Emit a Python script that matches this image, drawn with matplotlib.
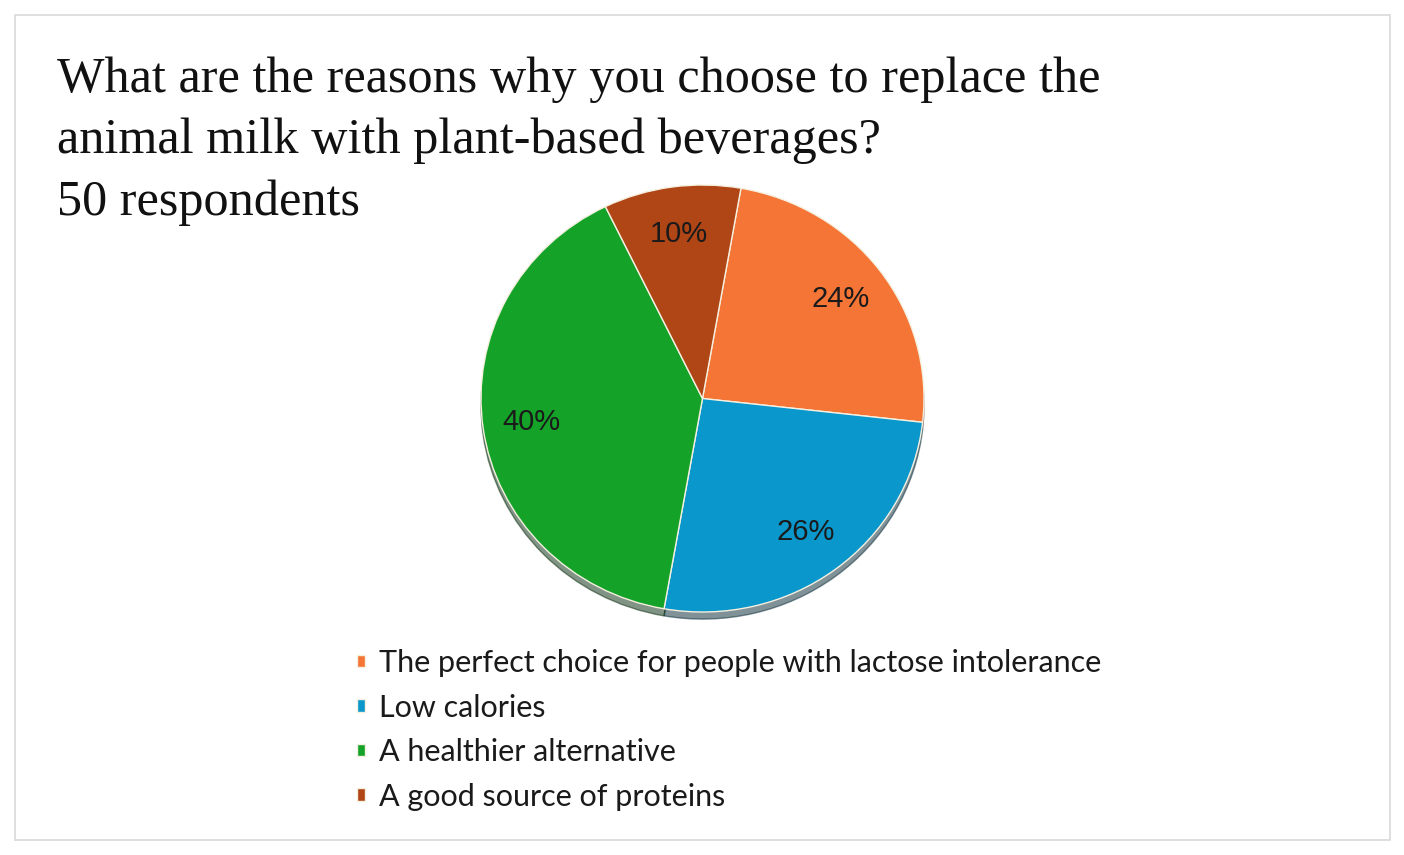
import matplotlib.pyplot as plt
from matplotlib.patches import Rectangle

# survey data (50 respondents)
reasons = [
    'The perfect choice for people with lactose intolerance',
    'Low calories',
    'A healthier alternative',
    'A good source of proteins',
]
shares = [24, 26, 40, 10]
colors = ['#F47535', '#0A97CC', '#14A328', '#B04516']

title_lines = [
    'What are the reasons why you choose to replace the',
    'animal milk with plant-based beverages?',
    '50 respondents',
]

W, H = 1404, 855
fig = plt.figure(figsize=(W / 100, H / 100), dpi=100)
fig.patch.set_facecolor('white')

# light grey frame around the whole chart
fig.patches.append(Rectangle((15 / W, 15 / H), 1375 / W, 825 / H,
                             transform=fig.transFigure, fill=False,
                             edgecolor='#D9D9D9', linewidth=1.2))

# title, one text per line
for i, line in enumerate(title_lines):
    fig.text(57 / W, 1 - (92 + 61.5 * i) / H, line, ha='left', va='baseline',
             fontsize=36.2, family='Liberation Serif', color='#111111')

# pie axes sized to the slightly wide pie in the reference
ax = fig.add_axes([481 / W, 1 - 612 / H, 443 / W, 427 / H])
wedges, texts, autotexts = ax.pie(
    shares, colors=colors, startangle=80, counterclock=False,
    autopct='%1.0f%%', pctdistance=0.78,
    wedgeprops={'edgecolor': '#F5F0E0', 'linewidth': 1.0},
    textprops={'fontsize': 21, 'family': 'Liberation Sans', 'color': '#1A1A1A'},
    shadow={'ox': 0.0, 'oy': -0.024, 'shade': 0.75},
)
ax.set_aspect('auto')
ax.set_xlim(-1, 1)
ax.set_ylim(-1, 1)
for w in wedges:
    w.set_clip_on(False)

leg = fig.legend(wedges, reasons, loc='upper left',
                 bbox_to_anchor=(357 / W, 1 - 649 / H),
                 frameon=False, borderpad=0, borderaxespad=0,
                 handlelength=0.27, handleheight=0.27, handletextpad=0.45,
                 labelspacing=0.54,
                 prop={'family': 'Lato', 'size': 22})
for t in leg.get_texts():
    t.set_color('#1A1A1A')

fig.savefig('out.png', dpi=100)
